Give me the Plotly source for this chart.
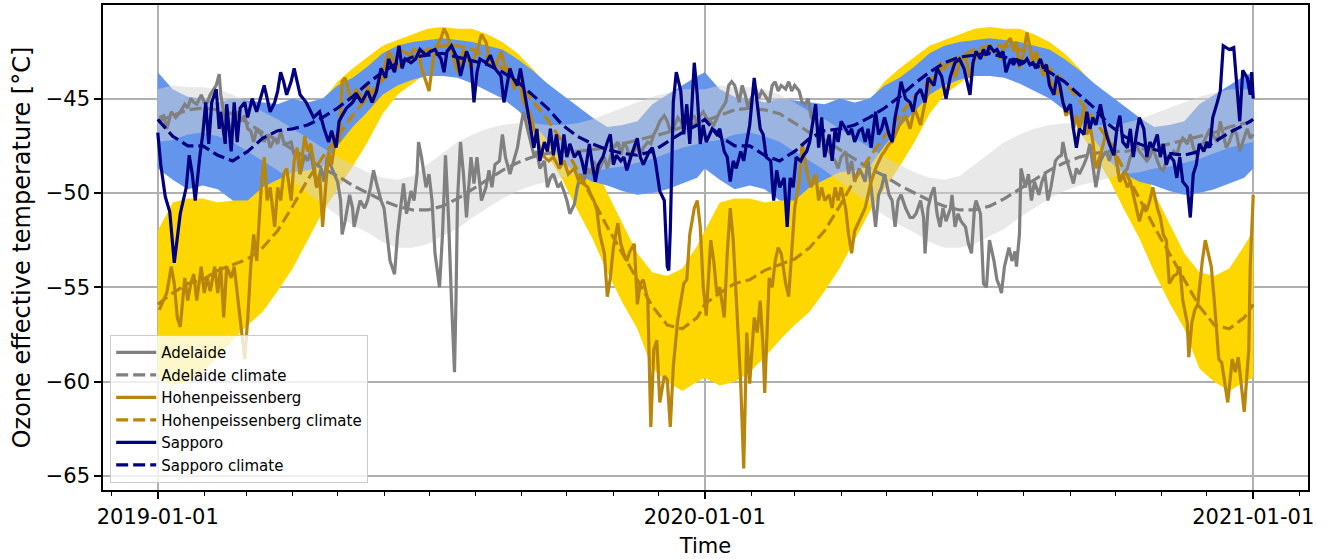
import pandas as pd
import plotly.graph_objects as go

# ---------------- data ----------------
START = "2019-01-01"

# daily observations: day offset from 2019-01-01 and value [degC]
SAP_DAY = [0, 2, 5, 8, 11, 15, 19, 21, 23, 25, 28, 30, 32, 34, 36, 39, 41, 42, 45, 46, 49, 51, 53, 55, 58, 60, 63, 66, 71, 73, 75, 78, 80, 82, 84, 86, 89, 91, 93, 95, 99,
           104, 108, 111, 114, 116, 119, 121, 123, 126, 130, 133, 136, 140, 143, 146, 149, 152, 154, 158, 161, 163, 165, 169, 172, 175, 179, 182, 185, 189, 191, 193, 196, 200, 202, 204, 206, 209, 211, 213, 215, 219, 222, 225, 229, 231, 233, 235,
           237, 240, 242, 245, 249, 251, 253, 255, 258, 260, 262, 264, 266, 269, 271, 273, 275, 278, 281, 283, 285, 288, 290, 292, 294, 297, 300, 302, 304, 306, 309, 311, 313, 316, 320, 322, 324, 328, 330, 332, 335, 338, 340, 341, 342, 344, 346, 349, 351, 353, 355, 358, 360, 362, 364, 366,
           370, 373, 375, 378, 380, 382, 384, 386, 389, 391, 393, 395, 398, 400, 402, 404, 406, 409, 411, 413, 415, 418, 420, 422, 424, 426, 429, 431, 433, 435, 439, 441, 443, 445, 448, 450, 452, 454, 456, 459, 461, 463, 465, 468, 470, 472, 474, 476, 479, 481, 483, 485, 488, 490, 492, 494, 496, 499, 502,
           504, 506, 509, 512, 514, 518, 520, 523, 526, 529, 532, 535, 538, 540, 542, 544, 546, 549, 551, 553, 555, 558, 560, 562, 564, 566, 569, 571, 573, 575, 578, 580, 582, 584, 586, 589, 591, 593, 595, 598, 600, 602, 604, 606, 609, 611, 613, 615, 618, 620, 622, 624, 626, 629, 631, 633, 635,
           638, 640, 642, 644, 647, 649, 651, 653, 655, 658, 660, 662, 664, 667, 669, 671, 673, 675, 678, 680, 682, 684, 687, 689, 691, 693, 695, 698, 700, 702, 704, 707, 709, 711, 713, 715, 718, 720, 722, 724, 727, 729, 730, 731]
SAP_VAL = [-46.8, -48.5, -50.2, -51.0, -53.7, -51.1, -49.7, -48.0, -49.0, -50.4, -48.1, -46.9, -45.2, -47.4, -45.2, -44.5, -46.6, -45.7, -47.4, -45.3, -47.8, -45.2, -47.3, -45.5, -45.2, -46.0, -45.0, -45.7, -44.3, -45.0, -45.7, -45.2, -44.6, -43.6, -44.1, -44.8, -44.1, -43.4, -44.1, -44.8, -45.2,
           -46.0, -45.7, -46.6, -47.3, -46.7, -47.6, -46.2, -45.9, -45.5, -45.2, -44.8, -45.2, -44.6, -45.2, -44.6, -43.4, -43.9, -42.9, -43.6, -42.2, -43.4, -42.9, -43.1, -42.9, -42.4, -42.7, -42.5, -42.4, -42.9, -43.6, -42.5, -42.2, -42.9, -43.8, -43.1, -42.5, -43.1, -45.2, -43.6, -42.9, -43.1, -42.7, -43.4, -43.8, -45.2, -44.3, -43.4,
           -43.9, -44.3, -43.4, -44.8, -46.7, -47.6, -46.6, -48.3, -47.3, -47.8, -46.6, -48.0, -46.9, -48.5, -46.9, -48.1, -47.4, -48.1, -47.8, -48.3, -49.0, -47.4, -48.5, -49.4, -48.5, -48.1, -47.3, -46.9, -48.5, -48.0, -48.3, -48.1, -48.8, -48.0, -47.1, -48.1, -48.5, -47.8, -47.6, -48.3, -49.9, -50.4, -53.9, -54.1, -52.0, -45.2, -43.6, -44.6, -46.9, -45.3, -47.4, -43.1, -44.8, -47.4, -46.4, -47.3,
           -46.6, -46.9, -46.6, -47.8, -48.1, -49.4, -48.3, -48.7, -47.8, -48.3, -47.3, -46.4, -43.9, -45.2, -46.6, -46.9, -48.1, -48.3, -50.4, -48.8, -49.7, -49.2, -51.8, -49.2, -49.7, -48.1, -48.3, -48.0, -47.8, -47.3, -45.3, -47.6, -46.0, -48.1, -46.9, -48.3, -46.6, -47.3, -46.2, -46.6, -46.9, -46.6, -47.3, -46.7, -46.6, -47.3, -46.6, -47.6, -45.7, -46.9, -46.6, -46.0, -46.9, -47.3, -46.0, -45.2, -44.1, -45.0, -45.2,
           -45.7, -44.8, -44.5, -45.2, -43.9, -44.3, -43.4, -43.8, -45.0, -43.8, -43.1, -42.9, -43.4, -44.1, -44.8, -43.1, -42.5, -42.9, -42.4, -42.7, -42.2, -42.5, -42.4, -42.7, -42.5, -43.6, -42.9, -43.2, -42.9, -43.2, -43.1, -42.9, -43.2, -43.1, -43.4, -42.9, -43.4, -43.2, -44.3, -44.8, -43.8, -44.3, -45.2, -45.7, -45.3, -46.6, -47.6, -46.6, -46.9, -45.7, -46.6, -46.0, -46.4, -45.3, -46.2, -46.9, -47.4,
           -48.0, -46.6, -45.9, -47.3, -47.6, -46.6, -48.1, -46.9, -46.0, -46.6, -48.1, -47.3, -47.6, -46.9, -48.1, -47.4, -48.5, -48.0, -48.3, -49.2, -48.1, -49.4, -49.7, -51.3, -49.0, -48.5, -47.4, -47.8, -47.3, -47.6, -46.0, -45.2, -44.6, -42.2, -42.3, -42.4, -42.3, -44.3, -46.2, -43.5, -43.9, -44.8, -43.6, -45.0]

HOH_DAY = [1, 4, 6, 9, 11, 13, 15, 18, 20, 22, 24, 26, 29, 31, 33, 35, 38, 40, 42, 44, 46, 49, 51, 53, 55, 58, 60, 62, 64, 66, 69, 71, 73, 75, 78, 80, 82, 84, 86, 89, 91, 93, 95,
           98, 100, 102, 104, 106, 108, 110, 112, 114, 116, 119, 121, 123, 125, 128, 130, 132, 135, 138, 140, 142, 144, 146, 149, 151, 154, 158, 161, 164, 168, 171, 174, 176, 179, 181, 183, 185, 189, 191, 193, 195, 198, 200, 202, 204, 206, 209, 211, 213, 216, 219, 222, 225, 229, 232, 235,
           238, 241, 244, 248, 251, 254, 258, 261, 264, 268, 271, 274, 278, 281, 284, 287, 289, 291, 293, 295, 298, 300, 302, 304, 307, 309, 311, 313, 315, 318, 320, 322, 324, 327, 329, 331, 333, 335, 338, 340, 342, 344, 347, 349, 351, 353, 355, 358, 360, 362, 364, 366,
           369, 371, 373, 375, 378, 380, 382, 384, 386, 389, 391, 393, 395, 398, 400, 402, 404, 405, 408, 410, 412, 414, 416, 419, 421, 423, 425, 428, 430, 432, 434, 436, 439, 441, 443, 445, 448, 450, 452, 454, 456, 459, 461, 463, 465, 468, 470, 472, 474, 476, 479, 481, 483, 485, 488, 490, 492, 494, 496, 499, 502,
           505, 509, 512, 515, 519, 522, 525, 529, 532, 535, 539, 542, 545, 549, 552, 555, 559, 562, 565, 569, 571, 573, 575, 578, 580, 582, 584, 586, 589, 591, 593, 595, 598, 600, 602, 604, 606, 609, 611, 613, 615, 618, 620, 622, 624, 626, 629, 631, 633, 635,
           638, 640, 642, 644, 647, 649, 651, 653, 655, 658, 660, 662, 664, 667, 669, 671, 673, 675, 678, 680, 682, 684, 687, 688, 690, 692, 694, 697, 699, 701, 703, 705, 708, 710, 712, 714, 717, 719, 721, 723, 725, 728, 729, 731]
HOH_VAL = [-56.2, -55.7, -55.3, -53.9, -54.8, -56.6, -57.1, -54.5, -55.7, -54.8, -54.3, -55.7, -53.9, -55.3, -54.5, -55.2, -53.9, -55.3, -53.9, -56.6, -53.9, -54.5, -53.9, -55.3, -56.7, -58.8, -56.7, -53.9, -52.2, -53.6, -49.7, -48.1, -50.4, -49.7, -51.8, -49.7, -50.4, -49.0, -48.7, -50.4, -48.3, -47.6, -49.0,
           -47.0, -47.8, -47.4, -48.3, -49.7, -49.0, -51.8, -49.7, -47.8, -48.5, -46.9, -47.3, -44.1, -43.9, -44.8, -45.2, -44.5, -44.8, -45.2, -44.3, -44.8, -45.2, -44.5, -43.8, -43.4, -42.5, -43.1, -42.4, -42.5, -42.7, -42.4, -42.5, -43.4, -44.1, -44.6, -43.4, -42.4, -41.8, -41.3, -41.6, -42.2, -43.1, -43.6, -43.1, -42.4, -42.7, -43.4, -42.9, -42.5, -41.6, -42.0, -43.1, -43.4, -42.5, -43.4, -43.4,
           -44.5, -43.9, -45.2, -45.7, -46.6, -47.4, -48.1, -48.3, -48.1, -48.7, -48.3, -49.0, -48.7, -49.4, -49.5, -49.7, -50.1, -50.4, -50.9, -52.2, -53.2, -55.5, -54.5, -52.9, -51.6, -52.7, -53.2, -53.6, -53.1, -52.7, -55.9, -54.8, -54.6, -55.7, -62.4, -58.3, -57.8, -61.1, -59.7, -59.9, -62.4, -59.2, -56.7, -55.7, -54.8, -54.6, -52.2, -50.8, -50.4, -51.8, -55.0, -56.5,
           -52.5, -53.6, -55.3, -55.0, -56.6, -53.2, -50.8, -52.5, -55.3, -60.1, -64.6, -57.4, -60.1, -56.6, -57.4, -55.7, -58.3, -60.6, -54.5, -55.0, -53.6, -52.9, -53.2, -54.8, -55.5, -53.2, -50.8, -49.4, -47.4, -48.3, -49.2, -49.7, -49.0, -50.4, -49.7, -50.4, -50.1, -50.8, -49.7, -50.4, -49.7, -50.8, -52.2, -53.2, -52.0, -51.5, -51.1, -50.8, -50.1, -49.4, -48.7, -48.3, -48.0, -47.8, -47.4, -47.3, -46.9, -46.6, -46.2, -45.9, -46.6,
           -45.5, -46.4, -45.2, -44.3, -43.8, -43.1, -43.4, -42.9, -43.9, -43.1, -42.7, -43.9, -42.9, -42.5, -42.7, -42.4, -42.5, -42.9, -42.2, -41.8, -42.5, -42.0, -43.4, -42.5, -41.5, -42.4, -43.1, -42.5, -43.2, -43.8, -43.4, -43.9, -44.5, -44.8, -44.3, -45.2, -45.9, -45.5, -46.6, -45.9, -46.6, -45.5, -46.9, -46.4, -47.3, -48.7, -48.0, -47.4, -46.7, -47.3,
           -47.6, -48.5, -49.4, -49.0, -49.7, -49.4, -50.1, -50.8, -51.5, -50.6, -50.9, -50.4, -49.7, -50.8, -51.3, -52.2, -52.5, -54.8, -54.4, -54.3, -53.9, -55.7, -56.9, -58.7, -56.9, -56.2, -55.9, -53.6, -52.5, -53.2, -53.9, -55.7, -58.8, -59.0, -60.1, -61.1, -58.8, -59.5, -58.7, -60.2, -61.6, -58.3, -53.9, -50.1]

ADL_DAY = [1, 4, 6, 9, 12, 15, 18, 20, 22, 24, 26, 29, 31, 33, 35, 39, 41, 42, 44, 46, 49, 51, 53, 55, 58, 60, 62, 64, 66, 69, 71, 73, 75, 78, 80, 82, 84, 86, 89, 91, 93, 95, 98, 100, 102,
           104, 106, 109, 111, 113, 115, 118, 120, 122, 123, 125, 128, 130, 131, 133, 135, 138, 140, 142, 144, 146, 149, 151, 153, 155, 158, 160, 162, 164, 166, 169, 171, 173, 174, 176, 179, 181, 183, 185, 188, 190, 192, 194, 196, 198, 199, 200, 202, 204, 206, 209, 211, 213, 216, 219, 221, 223, 225, 228, 230, 232, 235,
           238, 240, 242, 244, 247, 249, 251, 253, 255, 258, 260, 262, 264, 267, 269, 271, 273, 275, 278, 280, 282, 284, 287, 289, 291, 293, 295, 298, 300, 302, 304, 307, 309, 311, 313, 315, 318, 320, 322, 324, 327, 329, 331, 333, 335, 338, 340, 342, 344, 347, 349, 351, 353, 355, 358, 360, 362, 364, 366,
           371, 375, 379, 381, 383, 385, 388, 390, 392, 394, 396, 399, 401, 403, 405, 408, 410, 412, 414, 416, 419, 421, 423, 425, 428, 430, 432, 434, 436, 439, 441, 443, 445, 448, 450, 452, 454, 456, 459, 461, 463, 465, 468, 470, 472, 474, 476, 479, 481, 483, 485, 488, 490, 492, 494, 496, 499, 502,
           504, 506, 509, 511, 512, 514, 516, 518, 520, 522, 524, 526, 529, 530, 532, 534, 536, 539, 541, 543, 545, 546, 549, 551, 553, 555, 558, 560, 562, 563, 565, 568, 570, 572, 573, 575, 576, 579, 581, 583, 585, 588, 590, 592, 594, 596, 599, 601, 603, 604, 606, 609, 611, 613, 615, 618, 620, 622, 624, 626, 629, 631, 633, 635,
           638, 640, 642, 644, 647, 649, 651, 653, 655, 658, 660, 662, 664, 667, 669, 671, 673, 675, 678, 680, 682, 684, 687, 689, 691, 693, 695, 698, 700, 702, 704, 707, 709, 711, 713, 715, 718, 720, 722, 724, 727, 729, 731]
ADL_VAL = [-46.0, -45.9, -46.6, -45.7, -46.0, -45.7, -45.3, -45.5, -45.0, -45.2, -45.3, -44.8, -45.2, -45.2, -44.8, -44.3, -43.7, -44.8, -45.7, -46.4, -46.6, -46.0, -45.7, -46.2, -45.9, -46.6, -46.7, -47.3, -46.6, -46.9, -47.3, -46.9, -47.6, -47.1, -47.4, -46.7, -47.3, -47.4, -47.3, -48.0, -47.8, -49.0, -48.0, -48.3, -47.8,
           -48.7, -49.7, -48.7, -49.4, -48.1, -48.5, -49.0, -49.4, -50.4, -52.2, -51.5, -50.1, -50.8, -51.8, -51.1, -50.4, -50.8, -50.4, -49.7, -48.8, -49.5, -50.4, -50.8, -52.2, -53.6, -54.3, -52.2, -50.8, -49.5, -51.1, -49.9, -50.4, -49.0, -47.3, -48.1, -49.7, -49.0, -50.4, -53.2, -55.0, -52.2, -48.0, -51.3, -55.7, -59.5, -55.7, -50.4, -47.3, -49.0, -51.3, -48.1, -49.5, -48.1, -50.4, -49.7, -48.8, -49.7, -48.5, -48.3, -46.9, -48.1, -49.0,
           -48.1, -47.6, -46.6, -45.7, -46.7, -47.4, -48.0, -47.8, -48.7, -48.3, -49.7, -49.2, -49.0, -49.7, -49.5, -49.9, -50.4, -51.1, -50.6, -49.7, -49.0, -49.4, -48.7, -49.0, -48.3, -49.0, -48.7, -48.1, -48.7, -48.1, -47.6, -47.3, -48.0, -47.3, -47.6, -48.1, -47.8, -47.4, -48.0, -47.6, -47.3, -47.4, -46.9, -46.6, -46.2, -45.9, -46.2, -46.7, -46.6, -46.0, -46.2, -46.6, -45.7, -46.2, -45.9, -46.4, -45.9, -45.7, -46.0,
           -46.4, -45.7, -45.2, -44.3, -44.1, -44.3, -45.2, -44.3, -44.8, -45.5, -45.0, -44.5, -45.0, -44.6, -44.8, -45.2, -44.3, -44.1, -44.6, -44.3, -44.5, -44.1, -44.6, -44.3, -44.6, -45.2, -45.3, -45.0, -46.0, -46.2, -46.6, -46.9, -47.6, -47.8, -48.1, -48.3, -48.7, -48.1, -47.8, -49.0, -48.3, -49.4, -48.7, -49.0, -49.4, -48.3, -49.7, -51.8, -50.1, -49.7, -49.0, -50.1, -50.4, -51.8, -50.4, -50.1, -50.8, -51.3,
           -51.3, -51.1, -50.4, -51.3, -53.2, -50.8, -50.1, -49.7, -51.1, -51.8, -50.8, -51.5, -50.8, -50.1, -51.8, -51.1, -51.5, -51.8, -52.7, -53.2, -50.8, -50.4, -51.1, -54.8, -55.0, -52.5, -53.6, -54.6, -55.0, -55.3, -53.9, -52.9, -53.6, -53.1, -53.9, -52.2, -48.7, -49.7, -49.0, -50.4, -49.4, -50.1, -49.4, -49.0, -50.4, -49.7, -48.3, -48.1, -48.0, -47.3, -48.1, -49.0, -49.5, -48.7, -49.0, -48.5, -48.1, -47.4, -48.7, -49.7, -48.3, -48.0, -47.8, -48.3,
           -47.4, -48.5, -49.4, -49.0, -48.7, -48.1, -47.8, -47.4, -47.8, -48.1, -48.3, -48.1, -47.6, -48.3, -48.7, -48.8, -48.3, -48.1, -47.8, -48.0, -47.4, -47.1, -47.4, -46.9, -47.6, -48.0, -47.6, -47.3, -46.9, -46.6, -46.9, -47.3, -46.2, -46.9, -47.6, -47.3, -46.6, -46.9, -47.8, -47.3, -46.6, -47.1, -46.9]

# climatology: day of year, mean and band limits (same for both years)
CLIM_DOY = [0, 10, 20, 30, 40, 50, 60, 70, 80, 90, 100, 110, 120, 130, 140, 150, 160, 170, 180,
            190, 200, 210, 220, 230, 240, 250, 260, 270, 280, 290, 300, 310, 320, 330, 340, 350, 360]
YEAR_STARTS = [0, 365]   # 2019-01-01 and 2020-01-01 as day offsets
END_DAY = 731            # 2021-01-01

ADL_CLIM = [-46.2, -45.9, -45.6, -45.5, -45.6, -45.8, -46.3, -46.8, -47.2, -47.7, -48.2, -48.7, -49.1, -49.6, -50.0, -50.4, -50.7, -50.9, -50.9,
            -50.7, -50.3, -49.8, -49.3, -48.8, -48.4, -48.1, -47.9, -47.8, -47.8, -47.7, -47.6, -47.4, -47.2, -47.0, -46.8, -46.5, -46.3]
ADL_HI = [-44.5, -44.3, -44.4, -44.4, -44.5, -44.8, -45.2, -45.7, -46.1, -46.6, -47.1, -47.6, -48.1, -48.5, -48.9, -49.2, -49.3, -49.1, -48.5,
          -47.9, -47.3, -46.9, -46.6, -46.4, -46.3, -46.3, -46.4, -46.4, -46.3, -46.1, -45.8, -45.5, -45.2, -44.9, -44.7, -44.5, -44.5]
ADL_LO = [-47.3, -47.2, -46.9, -46.8, -47.0, -47.3, -47.8, -48.3, -48.8, -49.4, -50.0, -50.6, -51.2, -51.7, -52.1, -52.6, -52.9, -52.9, -52.7,
          -52.3, -51.9, -51.3, -50.8, -50.3, -49.9, -49.6, -49.4, -49.2, -49.0, -48.9, -48.7, -48.6, -48.4, -48.2, -47.9, -47.6, -47.4]

HOH_CLIM = [-55.9, -55.3, -54.8, -54.6, -54.1, -53.8, -53.5, -52.9, -52.0, -50.7, -49.3, -48.1, -47.0, -45.9, -44.9, -44.0, -43.3, -42.8, -42.4,
            -42.2, -42.2, -42.4, -42.8, -43.4, -44.1, -45.1, -46.1, -47.3, -48.8, -50.3, -51.8, -53.2, -54.6, -56.0, -57.0, -57.2, -56.6]
HOH_HI = [-52.0, -50.5, -50.3, -50.3, -50.5, -50.4, -50.0, -49.5, -48.6, -47.6, -46.4, -45.1, -44.1, -43.4, -42.8, -42.2, -41.9, -41.6, -41.3,
          -41.2, -41.3, -41.3, -41.6, -42.0, -42.6, -43.4, -44.3, -45.3, -46.6, -48.2, -50.0, -51.6, -53.2, -54.2, -54.4, -54.0, -52.8]
HOH_LO = [-59.8, -60.2, -60.0, -59.5, -58.7, -57.8, -57.0, -56.3, -55.2, -54.0, -52.5, -51.0, -49.8, -48.6, -47.3, -45.8, -44.8, -44.2, -43.6,
          -43.4, -43.4, -43.5, -43.9, -44.6, -45.5, -46.7, -48.0, -49.3, -50.9, -52.4, -54.2, -55.8, -57.2, -59.3, -60.0, -60.5, -60.0]

SAP_CLIM = [-46.1, -47.0, -47.5, -47.5, -48.0, -48.3, -47.8, -47.1, -46.7, -46.6, -46.4, -46.0, -45.5, -44.9, -44.2, -43.6, -43.1, -42.8, -42.7,
            -42.6, -42.8, -43.0, -43.2, -43.6, -44.1, -44.8, -45.5, -46.4, -47.0, -47.4, -47.7, -47.9, -48.0, -47.8, -47.3, -46.8, -46.4]
SAP_HI = [-43.6, -44.5, -44.9, -45.0, -45.2, -45.0, -45.1, -45.2, -45.3, -45.0, -45.2, -45.0, -44.3, -43.9, -43.3, -42.6, -42.2, -42.0, -41.9,
          -41.8, -41.9, -42.0, -42.2, -42.4, -42.9, -43.5, -44.2, -44.8, -45.4, -46.0, -46.5, -46.4, -46.2, -45.3, -44.8, -44.3, -43.8]
SAP_LO = [-48.7, -49.3, -49.8, -49.6, -49.8, -50.4, -50.4, -49.7, -49.3, -48.9, -48.8, -48.6, -47.5, -46.5, -45.7, -44.8, -44.3, -44.0, -43.8,
          -43.8, -43.9, -44.2, -44.6, -45.0, -45.6, -46.3, -47.2, -48.3, -49.0, -49.4, -49.6, -49.9, -50.1, -50.0, -49.8, -49.5, -49.2]

Y_TICKS = [-45, -50, -55, -60, -65]
X_TICKS = ["2019-01-01", "2020-01-01", "2021-01-01"]
X_TICK_TEXT = ["2019-01-01", "2020-01-01", "2021-01-01"]
Y_LABEL = "Ozone effective temperature [°C]"
X_LABEL = "Time"

# ---------------- helpers ----------------
base = pd.Timestamp(START)


def to_dates(days):
    return base + pd.to_timedelta(pd.Series(days, dtype="float64"), unit="D")


def clim_series(vals):
    days, out = [], []
    for y0 in YEAR_STARTS:
        for d, v in zip(CLIM_DOY, vals):
            days.append(y0 + d)
            out.append(v)
    days.append(END_DAY)
    out.append(vals[0])
    return to_dates(days), out


FONT = "DejaVu Sans"
fig = go.Figure()

# bands (gold, blue, then translucent light gray)
bands = [
    (HOH_LO, HOH_HI, "#FFD700"),
    (SAP_LO, SAP_HI, "#6495ED"),
    (ADL_LO, ADL_HI, "rgba(211,211,211,0.5)"),
]
for lo, hi, col in bands:
    xd, ylo = clim_series(lo)
    _, yhi = clim_series(hi)
    fig.add_trace(go.Scatter(x=xd, y=ylo, mode="lines", line=dict(width=0, color=col),
                             showlegend=False, hoverinfo="skip"))
    fig.add_trace(go.Scatter(x=xd, y=yhi, mode="lines", line=dict(width=0, color=col),
                             fill="tonexty", fillcolor=col, showlegend=False, hoverinfo="skip"))

LW = 3.2
DASH = "12px,5px"
series = [
    ("Adelaide", ADL_DAY, ADL_VAL, ADL_CLIM, "#808080"),
    ("Hohenpeissenberg", HOH_DAY, HOH_VAL, HOH_CLIM, "#B8860B"),
    ("Sapporo", SAP_DAY, SAP_VAL, SAP_CLIM, "#000080"),
]
for name, days, vals, clim, col in series:
    fig.add_trace(go.Scatter(x=to_dates(days), y=vals, mode="lines", name=name,
                             line=dict(color=col, width=LW)))
    xd, yc = clim_series(clim)
    fig.add_trace(go.Scatter(x=xd, y=yc, mode="lines", name=name + " climate",
                             line=dict(color=col, width=LW, dash=DASH)))

pad = pd.Timedelta(days=731 * 0.05)
x0 = base - pad
x1 = pd.Timestamp("2021-01-01") + pad

fig.update_layout(
    width=1333, height=559,
    margin=dict(l=103, r=25, t=3, b=69),
    paper_bgcolor="white", plot_bgcolor="white",
    font=dict(family=FONT, size=21, color="black"),
    showlegend=True,
    legend=dict(x=0.0058, y=0.0144, xanchor="left", yanchor="bottom",
                traceorder="normal",
                bgcolor="rgba(255,255,255,0.8)", bordercolor="#cccccc", borderwidth=1.2,
                font=dict(family=FONT, size=15, color="black"), itemwidth=40,
                tracegroupgap=0),
    xaxis=dict(type="date", range=[x0, x1], tickvals=X_TICKS, ticktext=X_TICK_TEXT,
               showgrid=True, gridcolor="#b0b0b0", gridwidth=1.6,
               showline=True, linecolor="black", linewidth=1.6, mirror=True,
               ticks="outside", ticklen=7, tickwidth=1.6, tickcolor="black",
               tickfont=dict(size=21),
               minor=dict(dtick="M1", tick0="2019-01-01", ticks="outside", ticklen=4,
                          tickwidth=1.2, tickcolor="black", showgrid=False),
               title=dict(text=X_LABEL, font=dict(size=21), standoff=10),
               zeroline=False),
    yaxis=dict(range=[-65.74, -40.04], tickvals=Y_TICKS,
               showgrid=True, gridcolor="#b0b0b0", gridwidth=1.6,
               showline=True, linecolor="black", linewidth=1.6, mirror=True,
               ticks="outside", ticklen=7, tickwidth=1.6, tickcolor="black",
               tickfont=dict(size=21),
               title=dict(text=Y_LABEL, font=dict(size=24), standoff=8),
               zeroline=False),
)

fig.write_html("out.html")
